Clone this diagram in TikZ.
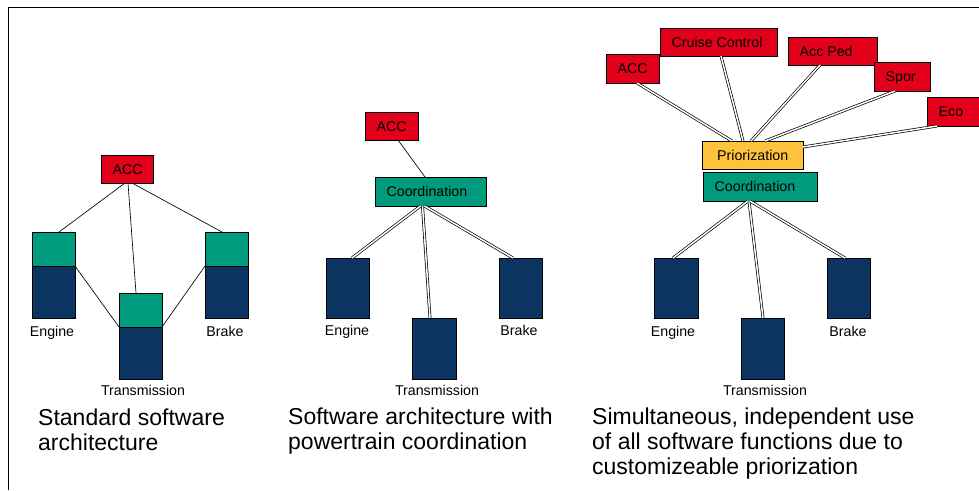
\documentclass[tikz,border=0pt]{standalone}
\usepackage{fontspec}
\setmainfont{Liberation Sans}
\usetikzlibrary{calc}
\definecolor{accred}{HTML}{E2001A}
\definecolor{coordgreen}{HTML}{009B7D}
\definecolor{unitnavy}{HTML}{0C3461}
\definecolor{prioyellow}{HTML}{FFC23C}
% \bx[text shift]{name}{x1}{y1}{x2}{y2}{fill}{text}
\newcommand\bx[8][11.5]{%
  \node[box,fill=#7,minimum width={(#5)-(#3)},minimum height={(#6)-(#4)},anchor=north west] (#2) at (#3,#4) {};
  \node[lbl,anchor=base west] (#2t) at ([xshift=#1pt,yshift=-5pt]#2.west) {#8};}
\begin{document}
\begin{tikzpicture}[x=1pt,y=-1pt,
  box/.style={draw=black,line width=0.6pt,inner sep=0pt,outer sep=0pt},
  lbl/.style={font=\fontsize{14.2}{16}\selectfont,inner sep=0pt},
  captext/.style={font=\fontsize{23}{25}\selectfont,inner sep=0pt,anchor=base west},
  link/.style={line width=0.65pt},
  dlink/.style={line width=0.7pt,double=white,double distance=1.5pt}]
\useasboundingbox (0,0) rectangle (979,490);
% frame
\draw[line width=0.9pt] (8,490) -- (8,7) -- (979,7);

% ---------- left panel ----------
\bx{accL}{101}{155}{153}{183}{accred}{ACC}
\bx{engLg}{32}{232}{75}{266}{coordgreen}{}
\bx{engLn}{32}{266}{75}{318}{unitnavy}{}
\bx{trLg}{119}{293}{162}{327}{coordgreen}{}
\bx{trLn}{119}{327}{162}{379}{unitnavy}{}
\bx{brLg}{205}{232}{248}{266}{coordgreen}{}
\bx{brLn}{205}{266}{248}{318}{unitnavy}{}
\draw[link] ([xshift=-2pt]accL.south) -- ([xshift=5.5pt]engLg.north);
\draw[link] ([xshift=1pt]accL.south) -- ([xshift=-4.5pt]trLg.north);
\draw[link] ([xshift=5pt]accL.south) -- ([xshift=-4.5pt]brLg.north);
\draw[link] (engLn.north east) -- (trLn.north west);
\draw[link] (brLn.north west) -- (trLn.north east);
\node[lbl,anchor=base] (labEngL) at (52,336) {Engine};
\node[lbl,anchor=base] (labBrL) at (225,336) {Brake};
\node[lbl,anchor=base] (labTrL) at (143,395) {Transmission};
\node[captext] (capLa) at (38,425) {Standard software};
\node[captext] (capLb) at (38,450) {architecture};

% ---------- middle panel ----------
\bx{accM}{365}{112}{418}{140}{accred}{ACC}
\bx{coordM}{375}{177}{486}{206}{coordgreen}{Coordination}
\bx{engM}{326}{258}{369}{318}{unitnavy}{}
\bx{brM}{499}{258}{542}{318}{unitnavy}{}
\bx{trM}{412}{318}{456}{379}{unitnavy}{}
\draw[link] ([xshift=6.5pt]accM.south) -- ([xshift=-5.5pt]coordM.north);
\draw[dlink] ([xshift=-10pt]coordM.south) -- ([xshift=4.5pt]engM.north);
\draw[dlink] ([xshift=-8pt]coordM.south) -- ([xshift=-4pt]trM.north);
\draw[dlink] ([xshift=-6pt]coordM.south) -- ([xshift=-7.5pt]brM.north);
\node[lbl,anchor=base] (labEngM) at (347,335) {Engine};
\node[lbl,anchor=base] (labBrM) at (519,335) {Brake};
\node[lbl,anchor=base] (labTrM) at (437,395) {Transmission};
\node[captext] (capMa) at (288,424) {Software architecture with};
\node[captext] (capMb) at (288,449) {powertrain coordination};

% ---------- right panel ----------
\bx{accR}{606}{54}{659}{83}{accred}{ACC}
\bx{ccR}{660}{28}{777}{56}{accred}{Cruise Control}
\bx{apR}{788}{37}{877}{65}{accred}{Acc Ped}
\bx{spR}{874}{62}{930}{91}{accred}{Spor}
\bx{ecoR}{927}{97}{980}{126}{accred}{Eco}
\bx[15]{prioR}{702}{141}{803}{169}{prioyellow}{Priorization}
\bx{coordR}{703}{172}{817}{201}{coordgreen}{Coordination}
\bx{engR}{654}{258}{698}{318}{unitnavy}{}
\bx{brR}{827}{258}{870}{318}{unitnavy}{}
\bx{trR}{741}{318}{784}{379}{unitnavy}{}
\draw[dlink] ([xshift=4.5pt]accR.south) -- ([xshift=-20.5pt]prioR.north);
\draw[dlink] ([xshift=2.5pt]ccR.south) -- ([xshift=-9.5pt]prioR.north);
\draw[dlink] ([xshift=-12.5pt]apR.south) -- ([xshift=-1.5pt]prioR.north);
\draw[dlink] ([xshift=-7pt]spR.south) -- ([xshift=12.5pt]prioR.north);
\draw[dlink] ([xshift=10pt]ecoR.south west) -- ([yshift=8pt]prioR.east);
\draw[dlink] ([xshift=-12pt]coordR.south) -- ([xshift=-3pt]engR.north);
\draw[dlink] ([xshift=-11pt]coordR.south) -- ([xshift=0.5pt]trR.north);
\draw[dlink] ([xshift=-10pt]coordR.south) -- ([xshift=-3.5pt]brR.north);
\node[lbl,anchor=base] (labEngR) at (673,336) {Engine};
\node[lbl,anchor=base] (labBrR) at (848,336) {Brake};
\node[lbl,anchor=base] (labTrR) at (765,395) {Transmission};
\node[captext] (capRa) at (592,424) {Simultaneous, independent use};
\node[captext] (capRb) at (592,449) {of all software functions due to};
\node[captext] (capRc) at (592,474) {customizeable priorization};
\end{tikzpicture}
\end{document}
